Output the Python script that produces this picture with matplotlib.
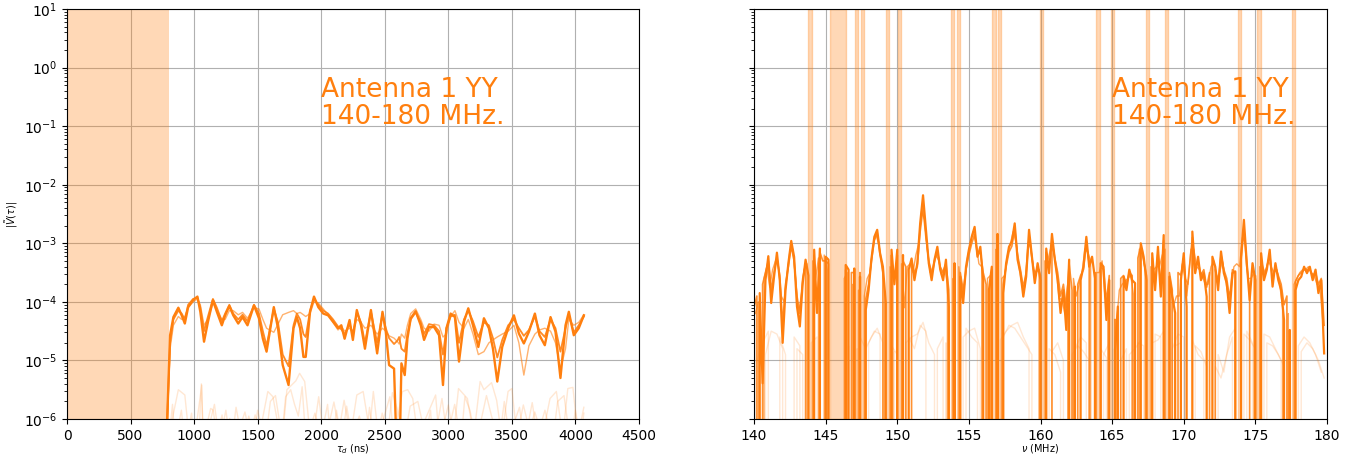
import numpy as np
import matplotlib
matplotlib.use("Agg")
import matplotlib.pyplot as plt

# ---------------- data (log10 of |V(tau)|, None = zero / flagged) ----------------
delay_ns = [785, 811, 837, 876, 902, 927, 953, 992, 1026, 1049, 1078, 1109, 1148, 1179,
            1218, 1244, 1277, 1308, 1347, 1381, 1420, 1471, 1510, 1541, 1570, 1627, 1660,
            1697, 1743, 1782, 1808, 1834, 1860, 1878, 1912, 1943, 1977, 2016, 2054, 2093,
            2132, 2158, 2184, 2223, 2249, 2280, 2313, 2344, 2391, 2440, 2482, 2508, 2534,
            2573, 2600, 2613, 2631, 2657, 2678, 2704, 2743, 2783, 2809, 2848, 2888, 2927,
            2958, 2985, 3018, 3052, 3084, 3123, 3157, 3194, 3236, 3280, 3319, 3351, 3385,
            3424, 3471, 3516, 3555, 3594, 3634, 3681, 3717, 3759, 3804, 3843, 3882, 3922,
            3948, 3987, 4026, 4066]

delay_s1_log10 = [-6.2, -4.57, -4.26, -4.10, -4.23, -4.37, -4.09, -3.97, -3.91, -4.17, -4.68,
                  -4.34, -3.97, -4.17, -4.40, -4.23, -4.07, -4.23, -4.37, -4.26, -4.40, -4.06,
                  -4.28, -4.63, -4.85, -4.09, -4.45, -5.08, -5.42, -4.45, -4.26, -4.45, -4.94,
                  -4.94, -4.17, -3.91, -4.09, -4.20, -4.23, -4.34, -4.45, -4.40, -4.63, -4.31,
                  -4.65, -4.14, -4.40, -4.80, -4.14, -4.88, -4.17, -4.51, -5.08, -5.14, -7.0,
                  -7.0, -5.05, -5.25, -4.63, -4.28, -4.16, -4.40, -4.65, -4.43, -4.43, -4.57,
                  -5.42, -4.45, -4.20, -4.26, -5.02, -4.34, -4.11, -4.40, -4.77, -4.28, -4.45,
                  -4.80, -5.36, -4.77, -4.45, -4.23, -4.54, -4.71, -4.51, -4.20, -4.57, -4.74,
                  -4.26, -4.51, -5.30, -4.40, -4.17, -4.57, -4.45, -4.23]

delay_s2_log10 = [-6.2, -4.70, -4.30, -4.15, -4.20, -4.30, -4.05, -3.95, -3.93, -4.10, -4.50,
                  -4.25, -3.95, -4.10, -4.33, -4.20, -4.05, -4.20, -4.30, -4.22, -4.33, -4.05,
                  -4.20, -4.50, -4.75, -4.12, -4.35, -4.90, -5.10, -4.40, -4.20, -4.30, -4.55,
                  -4.60, -4.15, -3.95, -4.05, -4.15, -4.20, -4.30, -4.42, -4.47, -4.55, -4.38,
                  -4.55, -4.18, -4.35, -4.70, -4.17, -4.70, -4.20, -4.45, -4.62, -4.72, -4.66,
                  -4.60, -4.80, -4.85, -4.55, -4.30, -4.18, -4.35, -4.55, -4.38, -4.40, -4.50,
                  -4.90, -4.45, -4.25, -4.22, -4.70, -4.30, -4.15, -4.33, -4.60, -4.35, -4.40,
                  -4.62, -4.95, -4.65, -4.40, -4.30, -4.45, -4.58, -4.48, -4.25, -4.50, -4.60,
                  -4.30, -4.45, -4.85, -4.45, -4.22, -4.52, -4.40, -4.25]

delay_s3_log10 = [-6.2, -4.80, -4.40, -4.25, -4.30, -4.25, -4.10, -4.00, -3.95, -4.05, -4.40,
                  -4.30, -4.02, -4.15, -4.30, -4.30, -4.15, -4.15, -4.22, -4.18, -4.28, -4.10,
                  -4.12, -4.30, -4.45, -4.52, -4.38, -4.22, -4.18, -4.15, -4.20, -4.18, -4.22,
                  -4.25, -4.20, -4.00, -4.02, -4.12, -4.22, -4.35, -4.48, -4.42, -4.50, -4.45,
                  -4.50, -4.30, -4.35, -4.45, -4.40, -4.55, -4.45, -4.50, -4.58, -4.62, -4.68,
                  -4.72, -4.55, -4.62, -4.40, -4.20, -4.12, -4.30, -4.45, -4.50, -4.38, -4.40,
                  -4.60, -4.55, -4.25, -4.15, -4.35, -4.45, -4.30, -4.55, -4.90, -4.85, -4.70,
                  -4.65, -4.60, -4.55, -4.50, -4.40, -4.70, -5.25, -4.75, -4.55, -4.48, -4.45,
                  -4.50, -4.70, -5.15, -4.80, -4.30, -4.40, -4.35, -4.22]

delay_f1 = [800, 876, 927, 960, 1000, 1040, 1057, 1075, 1100, 1130, 1150, 1180, 1220, 1240,
            1280, 1300, 1350, 1400, 1440, 1480, 1520, 1580, 1620, 1660, 1700, 1730, 1800,
            1830, 1870, 1900, 1930, 1980, 2020, 2060, 2100, 2140, 2180, 2230, 2280, 2330,
            2380, 2410, 2450, 2540, 2570, 2640, 2680, 2720, 2760, 2800, 2900, 2930, 3000,
            3040, 3080, 3150, 3200, 3250, 3280, 3340, 3380, 3420, 3470, 3500, 3540, 3590,
            3640, 3680, 3740, 3800, 3850, 3900, 3940, 3980, 4020, 4066]
delay_f1_log10 = [-6.3, -5.50, -5.59, -6.3, -6.5, -6.2, -5.40, -6.4, -6.1, -5.82, -5.85, -6.3,
                  -5.93, -6.4, -5.99, -6.4, -6.2, -5.88, -6.3, -5.93, -6.2, -5.53, -5.62, -6.1,
                  -6.2, -5.50, -5.35, -5.22, -5.36, -6.0, -6.4, -5.62, -6.3, -6.1, -5.71, -6.2,
                  -5.68, -6.3, -5.59, -5.53, -6.2, -5.53, -6.3, -5.62, -6.3, -5.53, -5.50, -5.65,
                  -6.3, -6.1, -5.59, -6.4, -5.76, -6.3, -5.48, -5.65, -6.3, -5.36, -5.50, -5.38,
                  -5.68, -6.3, -5.53, -5.48, -6.3, -5.76, -6.2, -5.88, -6.3, -5.65, -5.53, -6.3,
                  -5.48, -5.46, -6.3, -5.80]

delay_f2 = [800, 830, 850, 900, 930, 980, 1000, 1060, 1070, 1120, 1160, 1200, 1250, 1290,
            1330, 1380, 1430, 1470, 1500, 1560, 1600, 1640, 1690, 1720, 1760, 1790, 1820,
            1850, 1880, 1950, 2000, 2050, 2080, 2120, 2160, 2200, 2240, 2300, 2350, 2380,
            2420, 2480, 2520, 2560, 2600, 2650, 2700, 2760, 2820, 2860, 2880, 2950, 2990,
            3050, 3100, 3130, 3170, 3220, 3300, 3340, 3400, 3440, 3480, 3560, 3600, 3660,
            3700, 3760, 3820, 3860, 3910, 3960, 4000, 4040, 4066]
delay_f2_log10 = [-6.4, -5.75, -6.4, -5.85, -6.5, -5.90, -6.4, -5.42, -6.5, -6.1, -5.75, -6.4,
                  -5.85, -6.5, -5.80, -6.4, -5.95, -6.3, -5.85, -6.4, -5.70, -5.60, -6.3, -5.62,
                  -5.50, -5.75, -5.95, -5.45, -6.4, -5.90, -6.3, -5.75, -6.5, -5.85, -6.4, -5.78,
                  -6.3, -5.95, -6.4, -5.80, -6.5, -5.90, -6.3, -5.55, -5.85, -6.4, -5.78, -5.70,
                  -6.3, -5.85, -6.5, -5.65, -6.3, -5.75, -6.4, -5.62, -5.85, -6.4, -5.60, -5.95,
                  -6.4, -5.70, -6.3, -5.80, -6.4, -5.72, -6.3, -5.85, -6.4, -5.70, -5.60, -6.4,
                  -5.85, -6.4, -5.90]

# spectrum: channels every 0.2 MHz from 140.0 to 179.8
freq_mhz = np.linspace(140.0, 179.8, 200)
spec_s1_log10 = [
    -4.31, None, -3.85, -5.39, -3.63, -3.22, -4.02, -3.57, -3.16, -3.63,   # 140
    -4.70, -3.80, -3.34, -2.96, -3.23, -4.08, -4.42, -3.68, -3.28, -3.55,  # 142
    None, -3.11, -4.19, -3.09, None, -3.23, -3.28, None, None, None,       # 144
    None, None, -3.37, -3.45, None, -3.43, None, -3.57, None, -4.14,       # 146
    -3.80, -3.26, -2.89, -2.77, -3.17, -3.40, -4.02, None, -3.11, -3.70,   # 148
    -3.11, None, -3.20, None, -3.45, -3.26, -3.63, -3.34, -2.66, -2.18,    # 150
    -2.77, -3.34, -3.63, -3.28, -3.06, -3.45, -3.63, -3.28, -4.08, None,   # 152
    -3.34, None, -3.57, -4.02, -3.40, -3.11, -2.89, -2.72, -3.23, -3.06,   # 154
    -3.63, None, -3.80, -3.40, None, -2.84, None, -3.85, -3.34, -3.06,     # 156
    -2.97, -2.66, -3.28, -3.51, -3.91, -3.57, -2.77, -3.23, -3.68, -3.34,  # 158
    -3.63, None, -3.09, -3.51, -2.84, -3.28, -3.63, -4.19, -3.80, -4.48,   # 160
    -3.28, None, -3.74, None, -3.63, -3.40, -2.89, -3.40, -3.23, -3.60,    # 162
    None, -3.34, -3.40, -4.31, -3.63, None, -4.82, -4.08, None, -3.57,     # 164
    -3.80, -3.45, -3.63, -3.68, None, -3.00, -3.23, -3.63, None, -3.17,    # 166
    -3.80, -3.06, -3.91, -2.86, None, -3.57, -3.91, -4.19, None, -3.63,    # 168
    -3.17, -4.08, None, -2.80, -3.51, -3.23, -3.63, -3.51, -3.91, None,    # 170
    -3.23, -3.40, -3.80, -3.14, -3.51, -3.68, -4.19, -3.51, -3.48, None,   # 172
    -3.23, -2.60, -3.34, -3.97, -3.34, -3.63, None, -3.17, -3.63, -3.45,   # 174
    -3.11, -3.74, -3.34, -3.63, -3.80, -4.31, None, -4.48, None, -3.80,    # 176
    -3.63, -3.57, -3.40, -3.51, -3.40, -3.63, -3.45, -3.85, -3.63, -4.88,  # 178
]
spec_s2_log10 = [
    -4.10, -3.90, None, -3.70, -3.50, -3.30, -3.80, -3.50, -3.25, -3.55,   # 140
    -4.40, -3.70, -3.40, -3.05, -3.30, -3.90, -4.20, -3.60, -3.35, None,   # 142
    None, -3.20, None, -3.15, -3.30, -3.30, -3.35, None, None, None,       # 144
    None, None, -3.45, None, -3.50, -3.50, None, -3.50, None, -3.95,       # 146
    -3.70, -3.30, -2.95, -2.82, -3.20, -3.50, None, None, -3.20, None,     # 148
    -3.20, None, -3.30, -3.40, None, -3.30, -3.50, -3.40, -2.80, -2.40,    # 150
    -2.90, -3.30, -3.50, -3.30, -3.15, -3.40, -3.50, -3.35, -3.80, None,   # 152
    -3.40, None, -3.50, -3.80, -3.45, -3.20, -3.00, -2.85, -3.20, -3.15,   # 154
    -3.50, -3.70, None, -3.45, None, -2.95, None, -3.70, -3.40, -3.15,     # 156
    -3.05, -2.75, -3.20, -3.45, -3.75, -3.50, -2.90, -3.25, -3.55, -3.40,  # 158
    -3.55, None, -3.15, None, -2.95, -3.25, -3.50, -3.90, -3.70, -4.10,    # 160
    -3.35, -3.80, None, -3.70, -3.55, -3.45, -3.00, -3.35, None, -3.50,    # 162
    None, -3.40, -3.45, -4.00, -3.55, None, -4.30, None, -3.60, -3.55,     # 164
    -3.70, -3.50, -3.55, None, -3.25, -3.05, -3.30, -3.55, None, -3.25,    # 166
    -3.70, -3.15, -3.75, -2.95, None, -3.50, -3.80, None, -3.50, -3.55,    # 168
    -3.25, -3.90, -3.40, -2.90, -3.45, -3.30, -3.55, -3.45, -3.75, -3.50,  # 170
    None, -3.45, -3.70, -3.20, -3.45, -3.60, -3.95, -3.45, -3.50, None,    # 172
    -3.30, -2.75, -3.40, -3.80, None, -3.55, None, -3.25, -3.55, -3.40,    # 174
    -3.20, -3.60, -3.40, -3.55, -3.70, -4.05, -3.90, None, None, -3.65,    # 176
    -3.55, -3.50, -3.45, -3.45, -3.45, -3.55, -3.50, -3.70, -3.60, -4.40,  # 178
]
# third bright spectrum, channels offset by 0.1 MHz (140.1 ... 179.7)
freq_s3_mhz = np.linspace(140.1, 179.7, 199)
spec_s3_log10 = [
    -4.20, -4.00, None, -3.60, -3.40, -3.75, -3.45, -3.30, -3.40, -3.90,   # 140.1
    -4.00, -3.55, -3.15, -3.10, -3.60, -4.20, -3.90, -3.45, -3.35, None,   # 142.1
    -3.30, -3.60, -3.25, None, -3.20, -3.45, None, None, None, None,       # 144.1
    None, -3.60, -3.50, None, -3.70, None, -3.80, None, -3.90, -3.60,      # 146.1
    -3.50, -3.05, -2.85, -3.00, -3.30, -3.80, None, -3.40, -3.60, None,    # 148.1
    None, -3.35, -4.10, -3.40, -3.35, -3.50, -3.20, -3.00, -2.45, -2.60,   # 150.1
    -3.10, -3.50, -3.45, -3.20, -3.30, -3.55, -3.40, -3.70, None, -3.60,   # 152.1
    None, -3.40, -3.90, -3.70, -3.25, -3.00, -2.80, -3.00, -3.35, -3.40,   # 154.1
    None, -3.60, -3.55, None, -3.10, None, -3.60, -3.55, -3.20, -3.00,     # 156.1
    -2.80, -3.00, -3.40, -3.70, -3.75, -3.10, -3.00, -3.45, -3.50, -3.45,  # 158.1
    None, -3.30, -3.30, -3.10, -3.10, -3.45, -3.95, -3.95, -4.20, -3.70,   # 160.1
    None, -3.60, -3.90, -3.70, -3.50, -3.10, -3.15, -3.30, None, -3.50,    # 162.1
    -3.50, -3.30, -3.90, -4.00, None, None, -4.40, -3.80, -3.70, -3.65,    # 164.1
    -3.60, -3.55, -3.90, None, -3.10, -3.10, -3.45, None, -3.40, -3.45,    # 166.1
    -3.40, -3.40, -3.20, -3.10, None, -3.75, -4.05, -3.90, -3.90, -3.35,   # 168.1
    -3.60, -3.70, -3.10, -3.10, -3.40, -3.45, -3.55, -3.70, -3.70, -3.40,  # 170.1
    -3.30, -3.60, -3.50, -3.30, -3.60, -3.90, -3.80, -3.40, -3.35, -3.40,  # 172.1
    -2.90, -3.00, -3.60, -3.60, -3.50, None, -3.40, -3.40, -3.50, -3.30,   # 174.1
    -3.40, -3.50, -3.45, -3.70, -4.10, None, -4.20, None, -3.70, -3.60,    # 176.1
    -3.50, -3.45, -3.45, -3.40, -3.50, -3.55, -3.70, -3.75, -4.30,         # 178.1
]

# faint spectra, every 0.4 MHz
freq_f1_mhz = np.linspace(140.0, 179.6, 100)
spec_f1_log10 = [
    -4.7, None, -4.9, -4.5, -4.55, -4.8, None, -4.6, -4.75, None,          # 140.0
    -4.7, -4.6, None, -4.65, None, None, -4.9, None, -4.8, None,           # 144.0
    -4.7, -4.5, -4.55, None, -4.75, -4.9, None, -4.6, -4.8, -4.4,          # 148.0
    -4.5, None, -4.8, -4.6, None, -4.5, None, -4.45, -4.6, -4.7,           # 152.0
    None, -4.9, None, -4.65, -4.5, -4.4, -4.35, -4.6, -4.8, None,          # 156.0
    -4.7, None, -4.85, -4.7, -5.0, None, -4.8, -4.6, -4.7, None,           # 160.0
    None, -4.9, -4.7, None, -5.0, -4.8, None, -4.7, -4.75, None,           # 164.0
    -4.55, -4.6, None, -4.8, -4.55, -4.6, None, -4.75, -4.85, -5.1,        # 168.0
    None, -4.9, -5.2, -4.6, -4.45, None, -4.5, -4.7, None, -4.55,          # 172.0
    -4.6, -4.8, -5.0, None, None, -4.75, -4.6, -4.7, -4.9, -5.2,           # 176.0
]
freq_f2_mhz = np.linspace(140.2, 179.8, 100)
spec_f2_log10 = [
    -5.0, -4.7, -4.5, None, -4.6, -4.9, None, -4.8, -4.9, None,            # 140.2
    -4.7, None, -4.9, None, None, None, -4.75, None, -4.6, -4.8,           # 144.2
    -4.6, -4.45, -4.7, None, -4.85, None, -4.7, -4.6, -4.55, -4.35,        # 148.2
    -4.7, -4.9, None, -4.7, None, None, -4.6, -4.5, -4.45, -4.8,           # 152.2
    None, -4.7, None, -4.6, -4.4, -4.45, -4.6, -4.75, -4.9, None,          # 156.2
    None, -4.8, -4.9, -5.2, None, -4.9, -4.75, -4.85, -5.0, None,          # 160.2
    -4.8, -4.95, None, -5.1, None, -4.9, -4.8, -4.65, None, -4.7,          # 164.2
    -4.65, -4.5, None, -4.75, -4.7, None, -4.65, -4.9, -5.0, None,         # 168.2
    -5.1, -5.3, -4.9, -4.6, None, -4.55, -4.65, -4.8, None, -4.7,          # 172.2
    -4.75, -4.9, -5.1, None, None, -4.85, -4.7, -4.8, -5.0, -5.3,          # 176.2
]

# flagged frequency ranges (MHz)
flag_lo = [143.80, 145.30, 147.05, 147.48, 149.22, 150.05, 153.75, 154.18, 156.64,
           157.04, 159.97, 163.90, 164.89, 167.37, 168.71, 173.78, 175.14, 177.57]
flag_hi = [144.02, 146.39, 147.27, 147.70, 149.44, 150.27, 153.97, 154.40, 156.86,
           157.26, 160.19, 164.12, 165.11, 167.59, 168.93, 174.00, 175.36, 177.79]

delay_window = (0, 800)
label_text = "Antenna 1 YY\n140-180 MHz."


def lin(vals):
    return np.array([0.0 if v is None else 10.0 ** v for v in vals])


orange = "#ff7f0e"

fig = plt.figure(figsize=(13.55, 4.58), dpi=100)
ax1 = fig.add_axes([67 / 1355, 39 / 458, 572 / 1355, 410 / 458])
ax2 = fig.add_axes([754 / 1355, 39 / 458, 573 / 1355, 410 / 458], sharey=ax1)

for ax in (ax1, ax2):
    ax.set_yscale("log")
    ax.grid(True, color="#b0b0b0", linewidth=0.8)
    ax.set_axisbelow(True)

# ---- left: delay spectrum
ax1.axvspan(*delay_window, color=orange, alpha=0.3, linewidth=0)
ax1.plot(delay_f1, lin(delay_f1_log10), color=orange, alpha=0.18, lw=1.0)
ax1.plot(delay_f2, lin(delay_f2_log10), color=orange, alpha=0.18, lw=1.0)
ax1.plot(delay_ns, lin(delay_s3_log10), color=orange, alpha=0.6, lw=1.0)
ax1.plot(delay_ns, lin(delay_s2_log10), color=orange, alpha=0.9, lw=1.3)
ax1.plot(delay_ns, lin(delay_s1_log10), color=orange, alpha=1.0, lw=1.7)
ax1.set_xlim(0, 4500)
ax1.set_ylim(1e-6, 1e1)
ax1.set_xlabel(r"$\tau_d$ (ns)", fontsize=7)
ax1.set_ylabel(r"$|\tilde{V}(\tau)|$", fontsize=7)
ax1.xaxis.set_label_coords(0.5, -0.057)
ax1.yaxis.set_label_coords(-0.083, 0.5)
ax1.text(2000, 0.085, label_text, color=orange, fontsize=19, va="bottom", ha="left",
         linespacing=1.05)

# ---- right: spectrum
for lo, hi in zip(flag_lo, flag_hi):
    ax2.axvspan(lo, hi, color=orange, alpha=0.3)
ax2.plot(freq_f1_mhz, lin(spec_f1_log10), color=orange, alpha=0.18, lw=1.0)
ax2.plot(freq_f2_mhz, lin(spec_f2_log10), color=orange, alpha=0.18, lw=1.0)
ax2.plot(freq_s3_mhz, lin(spec_s3_log10), color=orange, alpha=0.7, lw=1.0)
ax2.plot(freq_mhz, lin(spec_s2_log10), color=orange, alpha=0.85, lw=1.2)
ax2.plot(freq_mhz, lin(spec_s1_log10), color=orange, alpha=1.0, lw=1.6)
ax2.set_xlim(140, 180)
ax2.set_xlabel(r"$\nu$ (MHz)", fontsize=7)
ax2.xaxis.set_label_coords(0.5, -0.057)
ax2.tick_params(axis="y", labelleft=False)
ax2.text(165, 0.085, label_text, color=orange, fontsize=19, va="bottom", ha="left",
         linespacing=1.05)

fig.savefig("out.png", dpi=100)
